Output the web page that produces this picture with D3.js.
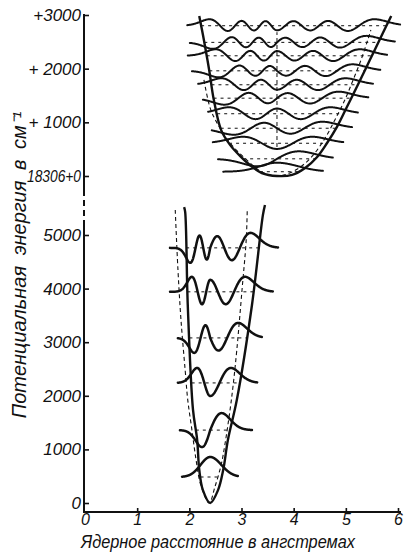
<!DOCTYPE html>
<html>
<head>
<meta charset="utf-8">
<script src="https://cdn.jsdelivr.net/npm/d3@7"></script>
<style>
  body { margin: 0; background: #fff; }
</style>
</head>
<body>
<div id="chart"></div>
<script>
// Axis ticks
const xTicks = [0, 1, 2, 3, 4, 5, 6];
const upperTicks = [0, 1000, 2000, 3000];
const upperTickLabels = ['18306+0', '+ 1000', '+ 2000', '+3000'];
const lowerTicks = [0, 1000, 2000, 3000, 4000, 5000];

// Upper (excited) state: potential curve (Å, cm-1 above 18306)
const upperCurveR = [2.19, 2.28, 2.38, 2.47, 2.61, 2.78, 2.97, 3.16, 3.39, 3.68, 3.97, 4.22, 4.45, 4.64, 4.83, 5.02, 5.21, 5.46, 5.71, 5.87];
const upperCurveE = [2980, 2530, 1975, 1415, 855, 580, 375, 205, 55, 0, 20, 150, 355, 615, 915, 1285, 1660, 2160, 2665, 2980];
// dashed parabola
const upperHarmR = [2.28, 2.40, 2.53, 2.78, 3.10, 3.39, 3.68, 3.97, 4.29, 4.58, 4.79, 4.98, 5.14, 5.29, 5.42, 5.48];
const upperHarmE = [1790, 1265, 990, 615, 300, 75, 0, 75, 300, 670, 1045, 1415, 1790, 2160, 2535, 2720];
// vibrational levels and the ends of each drawn line
const upperLevelE = [80, 320, 610, 890, 1160, 1450, 1700, 1960, 2240, 2490, 2800];
const upperLevelFrom = [2.65, 2.55, 2.45, 2.43, 2.36, 2.26, 2.17, 2.05, 1.97, 2.01, 1.96];
const upperLevelTo = [4.56, 4.75, 4.95, 5.12, 5.23, 5.43, 5.52, 5.66, 5.79, 5.94, 6.04];
const upperCentre = { r: 3.68, from: 540, to: 2680 };

// Lower (ground) state
const lowerCurveR = [1.90, 1.92, 1.97, 2.07, 2.15, 2.19, 2.26, 2.40, 2.55, 2.65, 2.74, 2.91, 3.20, 3.41, 3.45];
const lowerCurveE = [5520, 5430, 3690, 1740, 1180, 620, 240, 0, 240, 620, 1180, 1920, 3690, 5370, 5560];
const lowerHarmR = [1.73, 1.78, 1.84, 1.92, 1.97, 2.05, 2.13, 2.22, 2.38, 2.49, 2.61, 2.68, 2.78, 2.84, 2.91, 3.01, 3.09, 3.11];
const lowerHarmE = [5465, 4385, 3415, 2480, 1920, 1360, 800, 335, 0, 300, 710, 1080, 1735, 2200, 2855, 3975, 4905, 5465];
const lowerLevelE = [485, 1360, 2240, 3080, 3940, 4760];
const lowerLevelFrom = [1.86, 1.82, 1.78, 1.78, 1.63, 1.63];
const lowerLevelTo = [2.93, 3.20, 3.30, 3.39, 3.60, 3.70];

const width = 404, height = 552;
const ink = '#111';
const font = '"Liberation Sans", Arial, sans-serif';

const svg = d3.select('#chart').append('svg')
    .attr('width', width)
    .attr('height', height);

const x = d3.scaleLinear().domain([0, 6]).range([85, 398]);
const yUpper = d3.scaleLinear().domain([0, 3000]).range([176, 15]);
const yLower = d3.scaleLinear().domain([0, 5000]).range([503, 235]);

// turning points of a level on a potential curve
function turning(rs, es, e) {
    const iMin = es.indexOf(d3.min(es));
    let left = rs[0], right = rs[rs.length - 1];
    for (let i = 0; i < iMin; i++) {
        if (es[i] >= e && es[i + 1] <= e) {
            left = rs[i] + (rs[i + 1] - rs[i]) * (es[i] - e) / (es[i] - es[i + 1]);
            break;
        }
    }
    for (let i = iMin; i < rs.length - 1; i++) {
        if (es[i] <= e && es[i + 1] >= e) {
            right = rs[i] + (rs[i + 1] - rs[i]) * (e - es[i]) / (es[i + 1] - es[i]);
            break;
        }
    }
    return [left, right, rs[iMin]];
}

// oscillator wave function of quantum number v
function psi(v, xi) {
    let p0 = Math.exp(-xi * xi / 2);
    let p1 = Math.SQRT2 * xi * p0;
    if (v === 0) return p0;
    for (let n = 2; n <= v; n++) {
        const p2 = Math.sqrt(2 / n) * xi * p1 - Math.sqrt((n - 1) / n) * p0;
        p0 = p1;
        p1 = p2;
    }
    return p1;
}

function drawWell(cfg) {
    const g = svg.append('g');
    const y = cfg.y;
    const curveLine = d3.line()
        .x(d => x(d[0]))
        .y(d => y(d[1]))
        .curve(d3.curveCatmullRom.alpha(0.5));

    // dashed parabola
    g.append('path')
        .attr('d', curveLine(d3.zip(cfg.harmR, cfg.harmE)))
        .attr('fill', 'none')
        .attr('stroke', ink)
        .attr('stroke-width', 1.1)
        .attr('stroke-dasharray', '4,3');

    cfg.levels.forEach((e, v) => {
        const [rL, rR, r0] = turning(cfg.curveR, cfg.curveE, e);
        const xt = Math.sqrt(2 * v + 1);
        const toR = xi => xi < 0 ? r0 + xi / xt * (r0 - rL) : r0 + xi / xt * (rR - r0);
        const xiA = -(r0 - cfg.from[v]) / (r0 - rL) * xt;
        const xiB = (cfg.to[v] - r0) / (rR - r0) * xt;
        const xis = d3.range(0, 301).map(i => xiA + (xiB - xiA) * i / 300);
        const vals = xis.map(xi => psi(v, xi));
        const peak = d3.max(vals, Math.abs);
        const amp = cfg.amp(v);

        // dashed level line inside the well
        g.append('line')
            .attr('x1', x(rL)).attr('x2', x(rR))
            .attr('y1', y(e)).attr('y2', y(e))
            .attr('stroke', ink)
            .attr('stroke-width', 1)
            .attr('stroke-dasharray', '3,4');

        g.append('path')
            .attr('d', d3.line()(xis.map((xi, i) => [x(toR(xi)), y(e) - amp * vals[i] / peak])))
            .attr('fill', 'none')
            .attr('stroke', ink)
            .attr('stroke-width', cfg.waveWidth)
            .attr('stroke-linecap', 'round');
    });

    // potential curve
    g.append('path')
        .attr('d', curveLine(d3.zip(cfg.curveR, cfg.curveE)))
        .attr('fill', 'none')
        .attr('stroke', ink)
        .attr('stroke-width', 2.4);
    return g;
}

const gUpper = drawWell({
    y: yUpper,
    curveR: upperCurveR, curveE: upperCurveE,
    harmR: upperHarmR, harmE: upperHarmE,
    levels: upperLevelE, from: upperLevelFrom, to: upperLevelTo,
    amp: v => v === 0 ? 9 : v === 1 ? 7.5 : 6.5,
    waveWidth: 2
});

gUpper.append('line')
    .attr('x1', x(upperCentre.r)).attr('x2', x(upperCentre.r))
    .attr('y1', yUpper(upperCentre.from)).attr('y2', yUpper(upperCentre.to))
    .attr('stroke', ink)
    .attr('stroke-width', 1)
    .attr('stroke-dasharray', '4,3');

drawWell({
    y: yLower,
    curveR: lowerCurveR, curveE: lowerCurveE,
    harmR: lowerHarmR, harmE: lowerHarmE,
    levels: lowerLevelE, from: lowerLevelFrom, to: lowerLevelTo,
    amp: v => v === 0 ? 20 : v === 1 ? 17 : 15,
    waveWidth: 2.5
});

// Axes
const axisX = 84, axisBottom = 512;

svg.append('line')
    .attr('x1', axisX).attr('x2', axisX).attr('y1', 14).attr('y2', 190)
    .attr('stroke', ink).attr('stroke-width', 2);
svg.append('line')
    .attr('x1', axisX).attr('x2', axisX).attr('y1', 190).attr('y2', 226)
    .attr('stroke', ink).attr('stroke-width', 2).attr('stroke-dasharray', '6,4');
svg.append('line')
    .attr('x1', axisX).attr('x2', axisX).attr('y1', 226).attr('y2', axisBottom)
    .attr('stroke', ink).attr('stroke-width', 2);
svg.append('line')
    .attr('x1', axisX - 1).attr('x2', 401).attr('y1', axisBottom).attr('y2', axisBottom)
    .attr('stroke', ink).attr('stroke-width', 2);

function styleAxis(g) {
    g.select('.domain').remove();
    g.attr('font-family', font).attr('font-size', 17);
    g.selectAll('.tick line').attr('stroke', ink).attr('stroke-width', 1.6);
    g.selectAll('.tick text')
        .attr('fill', ink)
        .attr('font-style', 'italic');
}

svg.append('g')
    .attr('transform', `translate(${axisX},0)`)
    .call(d3.axisLeft(yUpper)
        .tickValues(upperTicks)
        .tickFormat((d, i) => upperTickLabels[i])
        .tickSizeInner(-5).tickSizeOuter(0).tickPadding(3))
    .call(styleAxis)
    .call(g => g.selectAll('.tick text').filter(d => d === 0)
        .attr('textLength', 54).attr('lengthAdjust', 'spacingAndGlyphs'));

svg.append('g')
    .attr('transform', `translate(${axisX},0)`)
    .call(d3.axisLeft(yLower)
        .tickValues(lowerTicks)
        .tickFormat(d3.format('d'))
        .tickSizeInner(-5).tickSizeOuter(0).tickPadding(3))
    .call(styleAxis);

svg.append('g')
    .attr('transform', `translate(0,${axisBottom})`)
    .call(d3.axisBottom(x)
        .tickValues(xTicks)
        .tickFormat(d3.format('d'))
        .tickSizeInner(-4).tickSizeOuter(0).tickPadding(2))
    .call(styleAxis)
    .call(g => g.selectAll('.tick text').style('font-size', '16px'))
    .call(g => g.selectAll('.tick line').filter(d => d === 0).remove());

// Axis titles
svg.append('text')
    .attr('transform', 'translate(26,265) rotate(-90)')
    .attr('text-anchor', 'middle')
    .attr('font-family', font)
    .attr('font-style', 'italic')
    .attr('font-size', 20)
    .attr('word-spacing', 5)
    .attr('fill', ink)
    .text('Потенциальная энергия в см⁻¹');

svg.append('text')
    .attr('x', 218)
    .attr('y', 548)
    .attr('text-anchor', 'middle')
    .attr('font-family', font)
    .attr('font-style', 'italic')
    .attr('font-size', 18)
    .attr('textLength', 274)
    .attr('lengthAdjust', 'spacingAndGlyphs')
    .attr('fill', ink)
    .text('Ядерное расстояние в ангстремах');
</script>
</body>
</html>
